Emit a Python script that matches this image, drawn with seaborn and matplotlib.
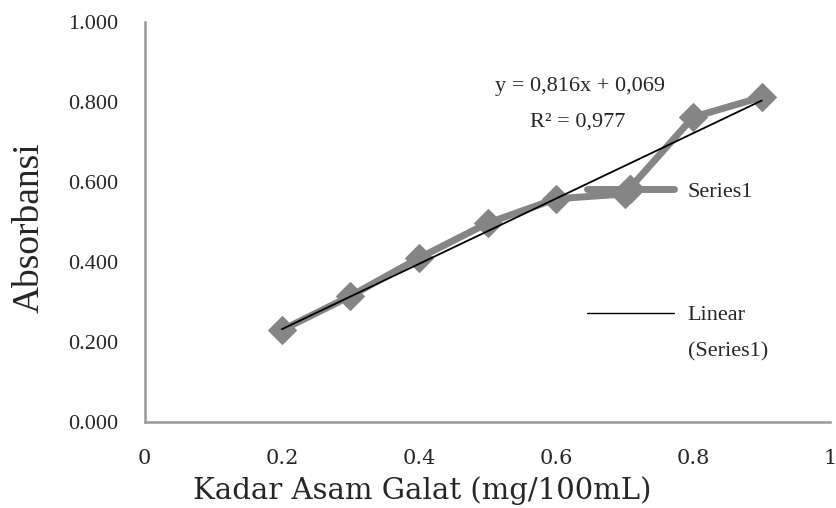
import numpy as np
import pandas as pd
import seaborn as sns
import matplotlib.pyplot as plt
from matplotlib.lines import Line2D

# data kurva standar asam galat
kadar = [0.2, 0.3, 0.4, 0.5, 0.6, 0.7, 0.8, 0.9]
absorbansi = [0.230, 0.315, 0.410, 0.497, 0.558, 0.570, 0.762, 0.812]
slope = 0.816
intercept = 0.069
persamaan = 'y = 0,816x + 0,069'
r2 = 'R² = 0,977'
xticks = [0, 0.2, 0.4, 0.6, 0.8, 1]
xticklabels = ['0', '0.2', '0.4', '0.6', '0.8', '1']
yticks = [0.0, 0.2, 0.4, 0.6, 0.8, 1.0]

df = pd.DataFrame({'kadar': kadar, 'absorbansi': absorbansi})
df['linear'] = slope * df['kadar'] + intercept

sns.set_style('white')
plt.rcParams['font.family'] = ['Liberation Serif', 'DejaVu Serif']

fig = plt.figure(figsize=(8.37, 5.08), dpi=100)
ax = fig.add_axes([0.173, 0.169, 0.819, 0.788])

abu = '#858585'
sns.lineplot(data=df, x='kadar', y='absorbansi', ax=ax, color=abu,
             linewidth=5, marker='D', markersize=14, markeredgecolor=abu)
sns.lineplot(data=df, x='kadar', y='linear', ax=ax, color='black', linewidth=1.3)

ax.set_xlim(0, 1)
ax.set_ylim(0, 1)
ax.set_xticks(xticks)
ax.set_xticklabels(xticklabels, fontsize=15, family='DejaVu Serif')
ax.set_yticks(yticks)
ax.set_yticklabels(['{:.3f}'.format(v) for v in yticks], fontsize=16)
ax.tick_params(axis='x', direction='out', length=12, width=1.5, color='#999999', pad=7)
ax.tick_params(axis='y', direction='out', length=9, width=1.5, color='#999999', pad=10)
for s in ['top', 'right']:
    ax.spines[s].set_visible(False)
for s in ['left', 'bottom']:
    ax.spines[s].set_color('#999999')
    ax.spines[s].set_linewidth(1.8)

ax.set_xlabel('Kadar Asam Galat (mg/100mL)', fontsize=21, family='DejaVu Serif', va='center')
ax.xaxis.set_label_coords(0.404, -0.17)
ax.set_ylabel('Absorbansi', fontsize=27, va='center')
ax.yaxis.set_label_coords(-0.169, 0.485)

ax.text(0.635, 0.8375, persamaan, transform=ax.transAxes, ha='center', va='center', fontsize=16)
ax.text(0.632, 0.75, r2, transform=ax.transAxes, ha='center', va='center', fontsize=16)

handles = [Line2D([], [], color=abu, linewidth=5, marker='D', markersize=14),
           Line2D([], [], color='black', linewidth=1.0)]
ax.legend(handles, ['Series1', 'Linear'], loc='upper left',
          bbox_to_anchor=(0.645, 0.6025), frameon=False, fontsize=16,
          borderpad=0, borderaxespad=0,
          handlelength=3.9, labelspacing=4.65, handletextpad=0.63)
ax.text(0.793, 0.175, '(Series1)', transform=ax.transAxes, ha='left', va='center', fontsize=16)

plt.savefig('out.png', dpi=100)
